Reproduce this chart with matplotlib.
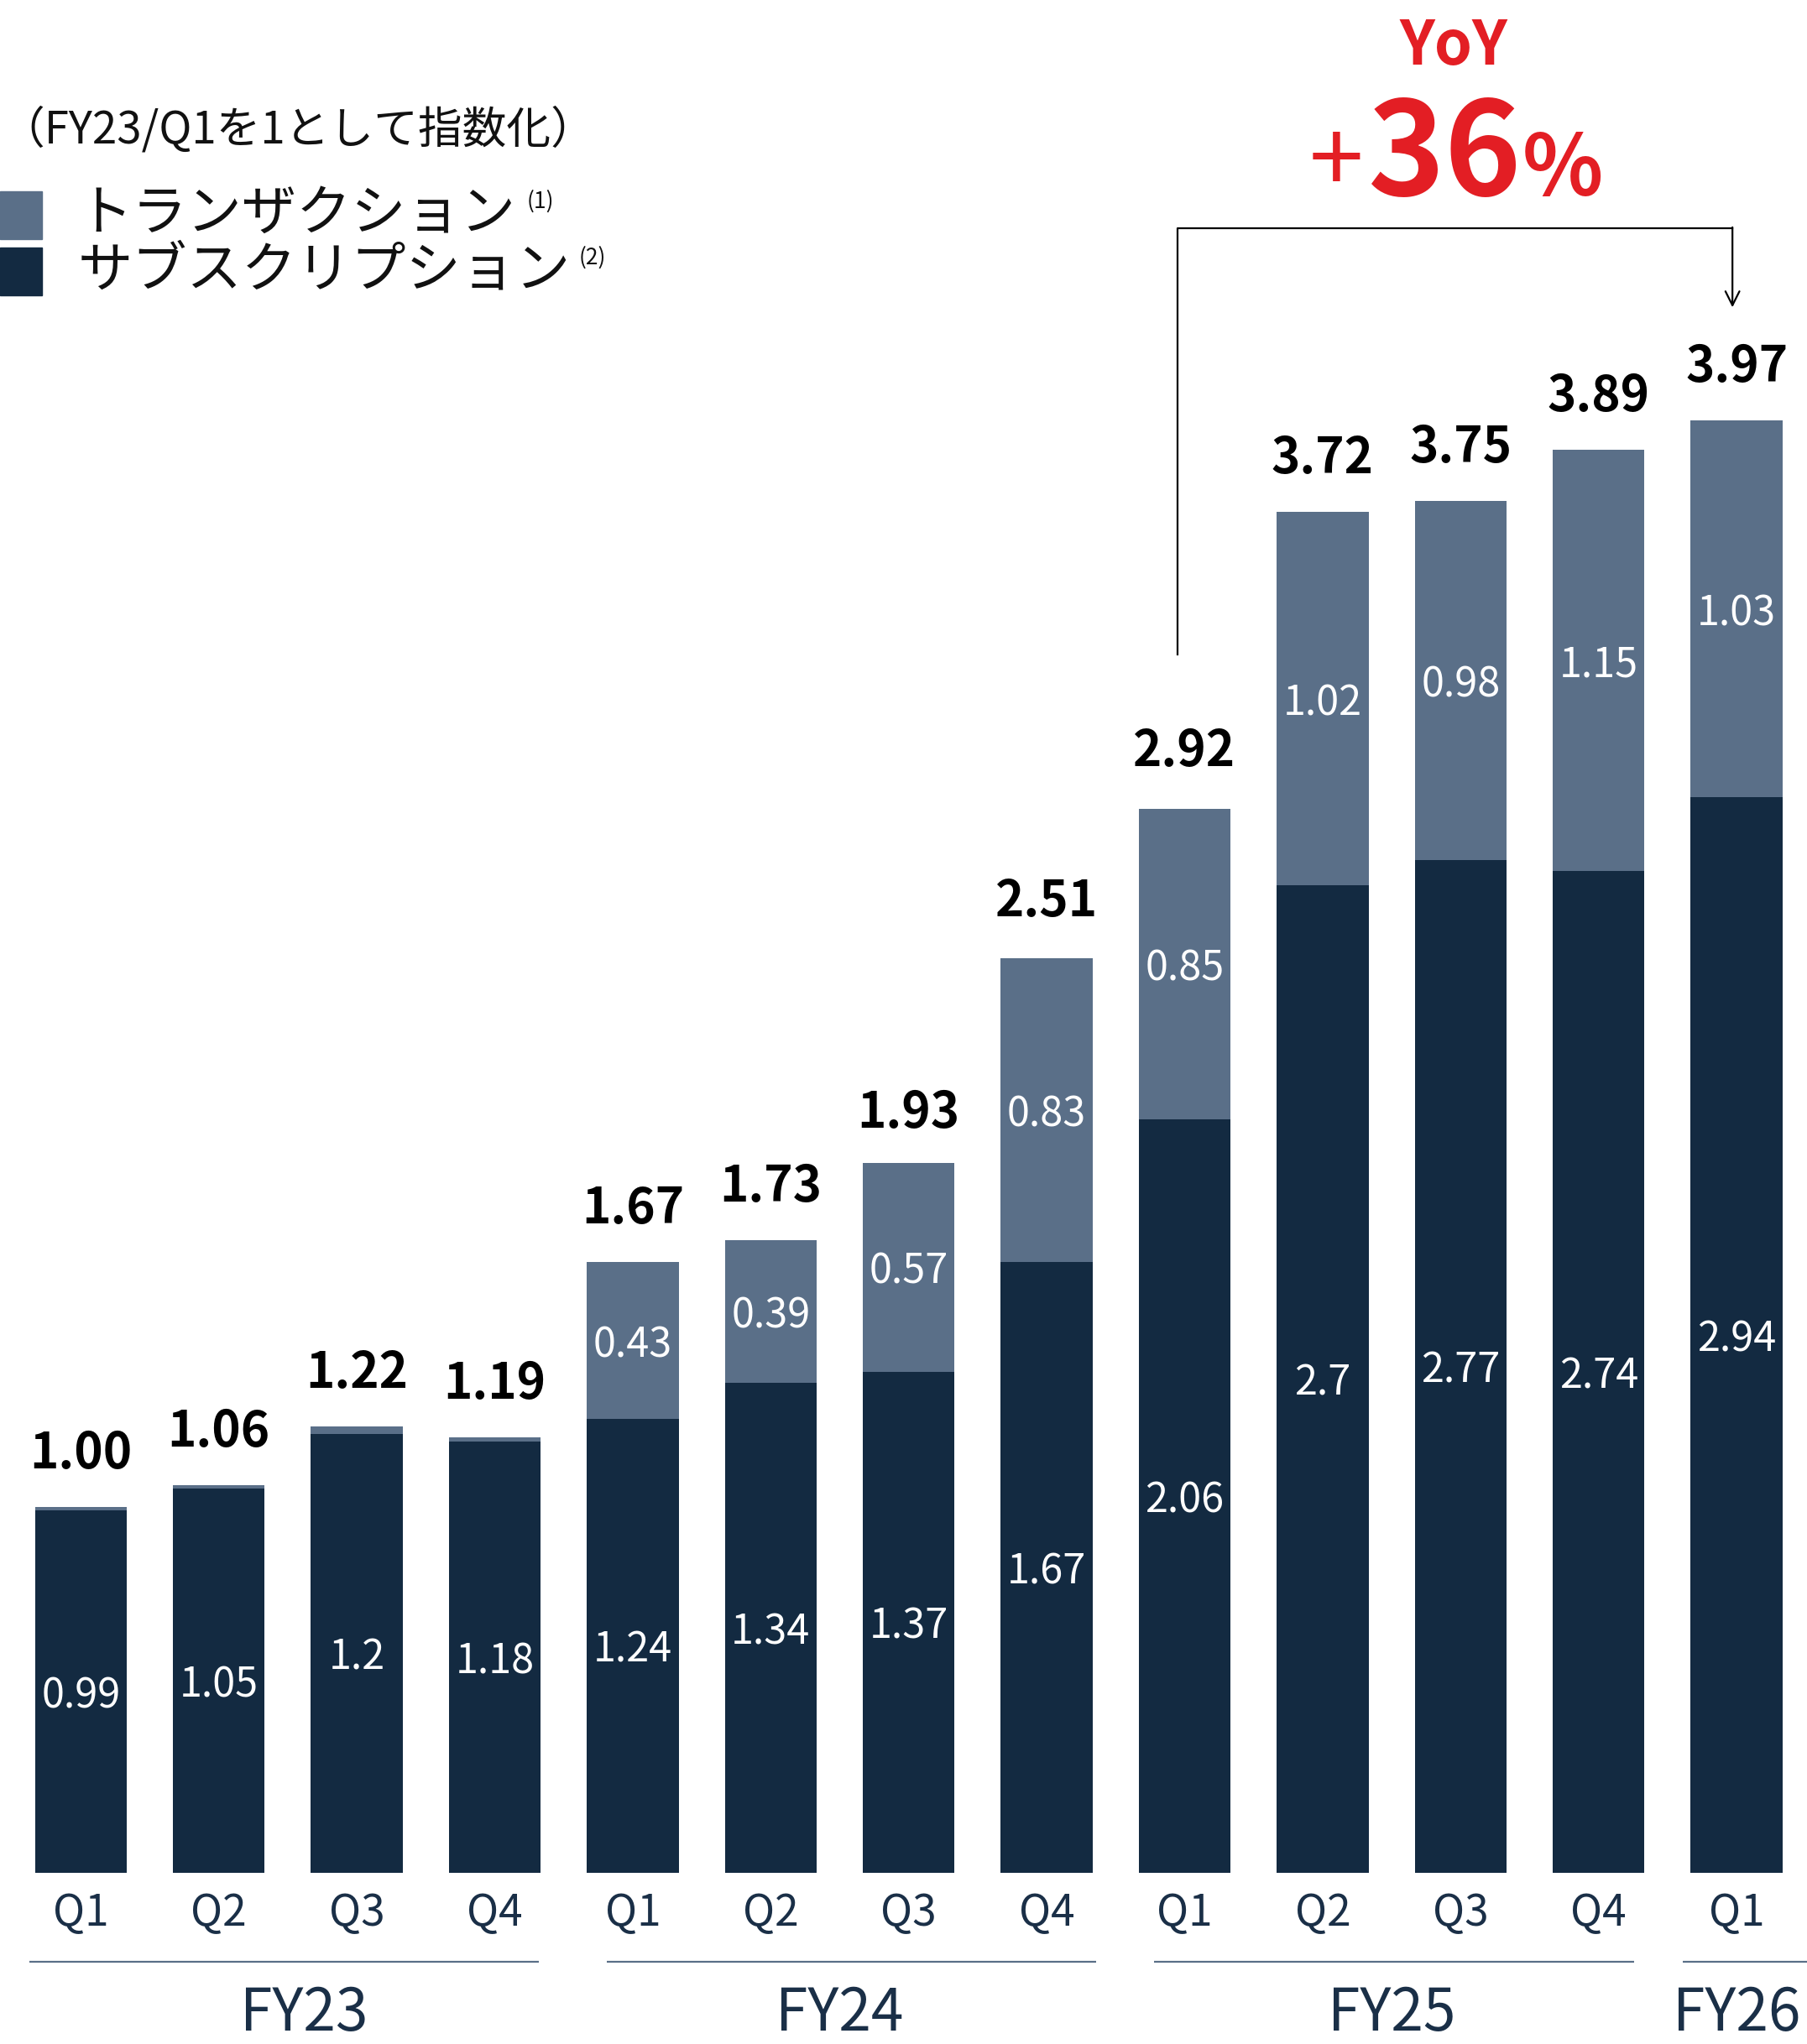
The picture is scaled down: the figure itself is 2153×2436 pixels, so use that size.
import matplotlib
matplotlib.use("Agg")
import matplotlib.pyplot as plt
from matplotlib.patches import Rectangle

plt.rcParams['font.family'] = ['Noto Sans CJK JP', 'DejaVu Sans']

# indexed values (FY23/Q1 = 1)
quarters = ['Q1', 'Q2', 'Q3', 'Q4', 'Q1', 'Q2', 'Q3', 'Q4', 'Q1', 'Q2', 'Q3', 'Q4', 'Q1']
years = ['FY23', 'FY24', 'FY25', 'FY26']
year_sizes = [4, 4, 4, 1]
subscription = [0.99, 1.05, 1.2, 1.18, 1.24, 1.34, 1.37, 1.67, 2.06, 2.7, 2.77, 2.74, 2.94]
transaction = [0.01, 0.01, 0.02, 0.01, 0.43, 0.39, 0.57, 0.83, 0.85, 1.02, 0.98, 1.15, 1.03]
totals = [1.00, 1.06, 1.22, 1.19, 1.67, 1.73, 1.93, 2.51, 2.92, 3.72, 3.75, 3.89, 3.97]
legend_names = ['トランザクション', 'サブスクリプション']
subtitle = '（FY23/Q1を1として指数化）'
yoy_pct = 36

LIGHT = '#5A6F88'
DARK = '#132A41'
NAVY_TXT = '#1A2F47'
RED = '#E31E24'

W, H = 2153, 2436
fig = plt.figure(figsize=(W / 100, H / 100), dpi=100)
ax = fig.add_axes([0, 0, 1, 1])
ax.axis('off')

# 164.4 px per bar slot, 435.9 px per index unit, baseline 204 px from bottom
x0, slot = 96.3, 164.4
unit, base = 435.9, 204
ax.set_xlim(-x0 / slot, (W - x0) / slot)
ax.set_ylim(-base / unit, (H - base) / unit)


def fx(px):
    return px / W


def fy(py):
    return 1 - py / H


x = list(range(len(quarters)))
ax.bar(x, subscription, width=0.666, color=DARK, linewidth=0)
ax.bar(x, transaction, width=0.666, bottom=subscription, color=LIGHT, linewidth=0)

for i in x:
    s, t, tot = subscription[i], transaction[i], totals[i]
    ax.text(i, s / 2, f'{s:g}', ha='center', va='center_baseline', color='white', fontsize=35)
    if t >= 0.1:
        ax.text(i, s + t / 2, f'{t:g}', ha='center', va='center_baseline', color='white',
                fontsize=35)
    ax.annotate(f'{tot:.2f}', (i, tot), xytext=(0, 24), textcoords='offset points',
                ha='center', va='bottom', fontsize=42, fontweight='bold', color='black')
    ax.text(i, -0.11, quarters[i], ha='center', va='center', color=NAVY_TXT, fontsize=37)

# fiscal year groups with rule above the label
pads = [(-0.37, 0.32), (-0.19, 0.36), (-0.22, 0.26), (-0.39, 0.6)]
start = 0
for name, n, (pl, pr) in zip(years, year_sizes, pads):
    a, b = start + pl, start + n - 1 + pr
    ax.plot([a, b], [-0.243, -0.243], color=LIGHT, lw=1.6, solid_capstyle='butt')
    ax.text(start + (n - 1) / 2 + (0.12 if start == 0 else 0), -0.385, name,
            ha='center', va='center', color=NAVY_TXT, fontsize=50)
    start += n

# YoY bracket from FY25/Q1 to FY26/Q1
top = 4.497
xl, xr = 8 - 0.05, 12 - 0.03
ax.plot([xl, xl, xr], [totals[8] + 0.41, top, top], color='black', lw=1.6)
ax.annotate('', xy=(xr, totals[12] + 0.31), xytext=(xr, top + 0.002),
            arrowprops=dict(arrowstyle='->', color='black', lw=1.6,
                            mutation_scale=30, shrinkA=0, shrinkB=0))

fig.text(fx(1732), fy(56), 'YoY', ha='center', va='center', color=RED,
         fontsize=52, fontweight='bold')
fig.text(fx(1592), fy(197), '+', ha='center', va='center', color=RED, fontsize=84)
fig.text(fx(1722), fy(233), str(yoy_pct), ha='center', va='baseline', color=RED,
         fontsize=112, fontweight='bold')
fig.text(fx(1862), fy(233), '%', ha='center', va='baseline', color=RED,
         fontsize=72, fontweight='bold')

# subtitle and legend
fig.text(fx(0), fy(155), subtitle, ha='left', va='center', color='#111111', fontsize=38)
for k, (name, col, yc) in enumerate(zip(legend_names, [LIGHT, DARK], [256, 323])):
    fig.patches.append(Rectangle((0, fy(yc + 29)), fx(50), 57 / H, color=col,
                                 transform=fig.transFigure, figure=fig))
    fig.text(fx(93), fy(yc), name, ha='left', va='center', color='#111111', fontsize=47)
    fig.text(fx([628, 690][k]), fy(yc - 16), f'({k + 1})', ha='left', va='center',
             color='#111111', fontsize=19)

fig.savefig('out.png', dpi=100)
